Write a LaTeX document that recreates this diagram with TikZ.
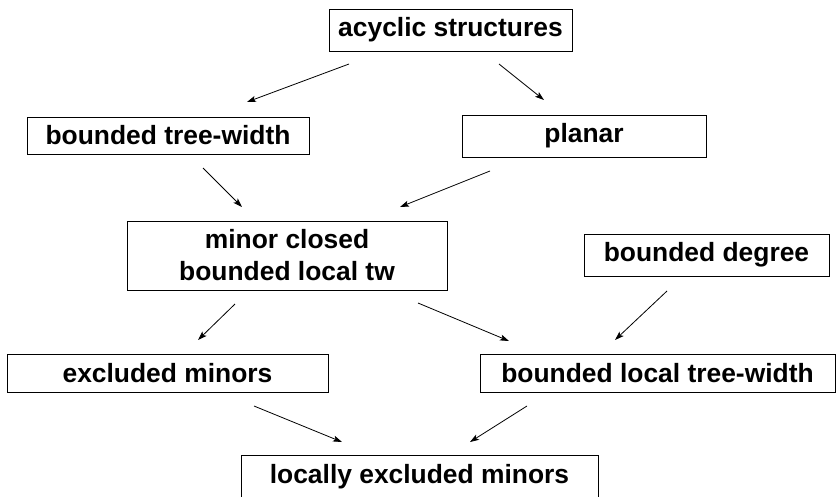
\documentclass[tikz,border=0pt]{standalone}
\usepackage{fontspec}
\setmainfont{Liberation Sans}
\usetikzlibrary{arrows.meta}
\begin{document}
\begin{tikzpicture}[x=1pt,y=-1pt,
  box/.style={draw, line width=1pt, inner sep=0pt, align=center,
    font=\bfseries\fontsize{26.4}{32}\selectfont},
  arr/.style={-{Stealth[length=9pt,width=6pt,inset=2pt]}, line width=0.8pt}]
\useasboundingbox (0,0) rectangle (836,496);
\clip (0,0) rectangle (836,496);
\node[box, minimum width=243pt, minimum height=42pt] (acy) at (450.5,30) {acyclic structures};
\node[box, minimum width=282pt, minimum height=37pt] (btw) at (168,135.5) {bounded tree-width};
\node[box, minimum width=244pt, minimum height=42pt] (pla) at (584,136) {planar};
\node[box, minimum width=320pt, minimum height=69pt] (mcl) at (287,255.5) {minor closed\\bounded local tw};
\node[box, minimum width=245pt, minimum height=42pt] (bde) at (706.5,255) {bounded degree};
\node[box, minimum width=321pt, minimum height=38pt] (exm) at (167.5,373) {excluded minors};
\node[box, minimum width=355pt, minimum height=38pt] (blt) at (657.5,373) {bounded local tree-width};
\node[box, minimum width=357pt, minimum height=44pt] (loc) at (419.5,477) {locally excluded minors};
\coordinate (s1) at (349,64);  \coordinate (e1) at (247,102);
\coordinate (s2) at (499,64);  \coordinate (e2) at (544,100);
\coordinate (s3) at (203,168); \coordinate (e3) at (242,207);
\coordinate (s4) at (490,171); \coordinate (e4) at (400,207);
\coordinate (s5) at (235,304); \coordinate (e5) at (198,340);
\coordinate (s6) at (418,303); \coordinate (e6) at (509,341);
\coordinate (s7) at (667,291); \coordinate (e7) at (615,340);
\coordinate (s8) at (254,406); \coordinate (e8) at (342,442);
\coordinate (s9) at (527,406); \coordinate (e9) at (470,442);
\draw[arr] (s1) -- (e1);
\draw[arr] (s2) -- (e2);
\draw[arr] (s3) -- (e3);
\draw[arr] (s4) -- (e4);
\draw[arr] (s5) -- (e5);
\draw[arr] (s6) -- (e6);
\draw[arr] (s7) -- (e7);
\draw[arr] (s8) -- (e8);
\draw[arr] (s9) -- (e9);
\end{tikzpicture}
\end{document}
